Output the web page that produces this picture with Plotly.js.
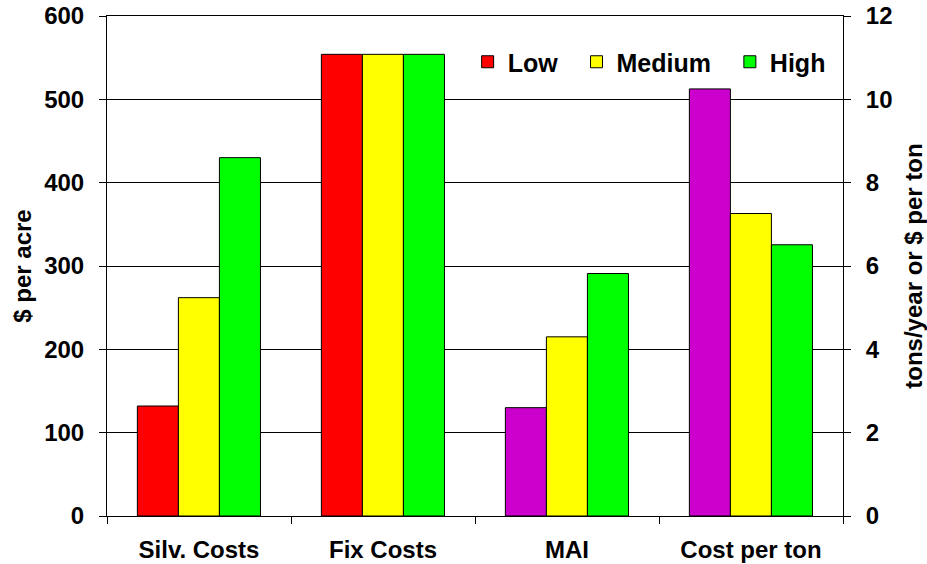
<!DOCTYPE html>
<html>
<head>
<meta charset="utf-8">
<script src="https://cdn.plot.ly/plotly-3.0.1.min.js"></script>
<style>html,body{margin:0;padding:0;background:#fff;}#chart{width:927px;height:564px;}</style>
</head>
<body>
<div id="chart"></div>
<script>
// Categories
var categories = ['Silv. Costs', 'Fix Costs', 'MAI', 'Cost per ton'];
// Left axis ($ per acre): Silv. Costs, Fix Costs
var leftCategories = ['Silv. Costs', 'Fix Costs'];
var lowCost = [132, 554];
var mediumCost = [262, 554];
var highCost = [430, 554];
// Right axis (tons/year or $ per ton): MAI, Cost per ton
var rightCategories = ['MAI', 'Cost per ton'];
var lowRight = [2.6, 10.25];
var mediumRight = [4.3, 7.26];
var highRight = [5.82, 6.51];
// Legend names
var seriesNames = ['Low', 'Medium', 'High'];

var FONT = 'Liberation Sans, Arial, sans-serif';
var RED = '#FF0000', YEL = '#FFFF00', GRN = '#00FF00', MAG = '#CC00CC';
var W = 0.223;
var offs = [-0.335, -0.112, 0.111];
var line = {color: '#000', width: 1};
var PAD = '\u00a0\u00a0';

function bar(x, y, name, color, i, axis, showlegend) {
  return {
    type: 'bar', x: x, y: y, name: name + PAD, yaxis: axis,
    marker: {color: color, line: line},
    width: W, offset: offs[i],
    showlegend: showlegend, hoverinfo: 'x+y'
  };
}

var data = [
  bar(leftCategories, lowCost, seriesNames[0], RED, 0, 'y', true),
  bar(leftCategories, mediumCost, seriesNames[1], YEL, 1, 'y', true),
  bar(leftCategories, highCost, seriesNames[2], GRN, 2, 'y', true),
  bar(rightCategories, lowRight, seriesNames[0], MAG, 0, 'y2', false),
  bar(rightCategories, mediumRight, seriesNames[1], YEL, 1, 'y2', false),
  bar(rightCategories, highRight, seriesNames[2], GRN, 2, 'y2', false)
];

var tickFont = {family: FONT, size: 24, color: '#000', weight: 'bold'};
var titleFont = {family: FONT, size: 24, color: '#000', weight: 'bold'};

var layout = {
  width: 927, height: 564,
  margin: {l: 107, r: 84, t: 16, b: 48, pad: 0},
  paper_bgcolor: '#fff', plot_bgcolor: '#fff',
  font: {family: FONT, color: '#000', weight: 'bold'},
  barmode: 'group',
  showlegend: true,
  legend: {
    orientation: 'h', x: 0.49, xanchor: 'left', y: 0.908, yanchor: 'middle',
    bgcolor: 'rgba(0,0,0,0)', borderwidth: 0,
    font: {family: FONT, size: 25, color: '#000', weight: 'bold'},
    traceorder: 'normal'
  },
  xaxis: {
    type: 'category', categoryorder: 'array', categoryarray: categories,
    range: [-0.5, 3.5],
    tickson: 'boundaries', ticks: 'outside', ticklen: 7, tickcolor: '#000', tickwidth: 1,
    showline: true, linecolor: '#000', linewidth: 1, mirror: true,
    showgrid: false, zeroline: false,
    tickfont: tickFont, ticklabelstandoff: 12, automargin: false
  },
  yaxis: {
    range: [0, 600], dtick: 100, tick0: 0,
    ticks: 'outside', ticklen: 7, tickcolor: '#000', tickwidth: 1,
    showline: true, linecolor: '#000', linewidth: 1,
    showgrid: true, gridcolor: '#000', gridwidth: 1, zeroline: false,
    tickfont: tickFont, ticklabelstandoff: 10, automargin: false,
    title: {text: '$ per acre', font: titleFont, standoff: 5}
  },
  yaxis2: {
    overlaying: 'y', side: 'right',
    range: [0, 12], dtick: 2, tick0: 0,
    ticks: 'outside', ticklen: 7, tickcolor: '#000', tickwidth: 1,
    showline: true, linecolor: '#000', linewidth: 1,
    showgrid: false, zeroline: false,
    tickfont: tickFont, ticklabelstandoff: 10, automargin: false,
    title: {text: 'tons/year or $ per ton', font: titleFont, standoff: 14}
  },
  shapes: [{
    type: 'rect', layer: 'between', xref: 'paper', yref: 'paper',
    x0: 0.485, x1: 0.999, y0: 0.81, y1: 0.97,
    fillcolor: '#fff', line: {width: 0}
  }]
};

Plotly.newPlot('chart', data, layout, {displayModeBar: false, staticPlot: true});
</script>
</body>
</html>
